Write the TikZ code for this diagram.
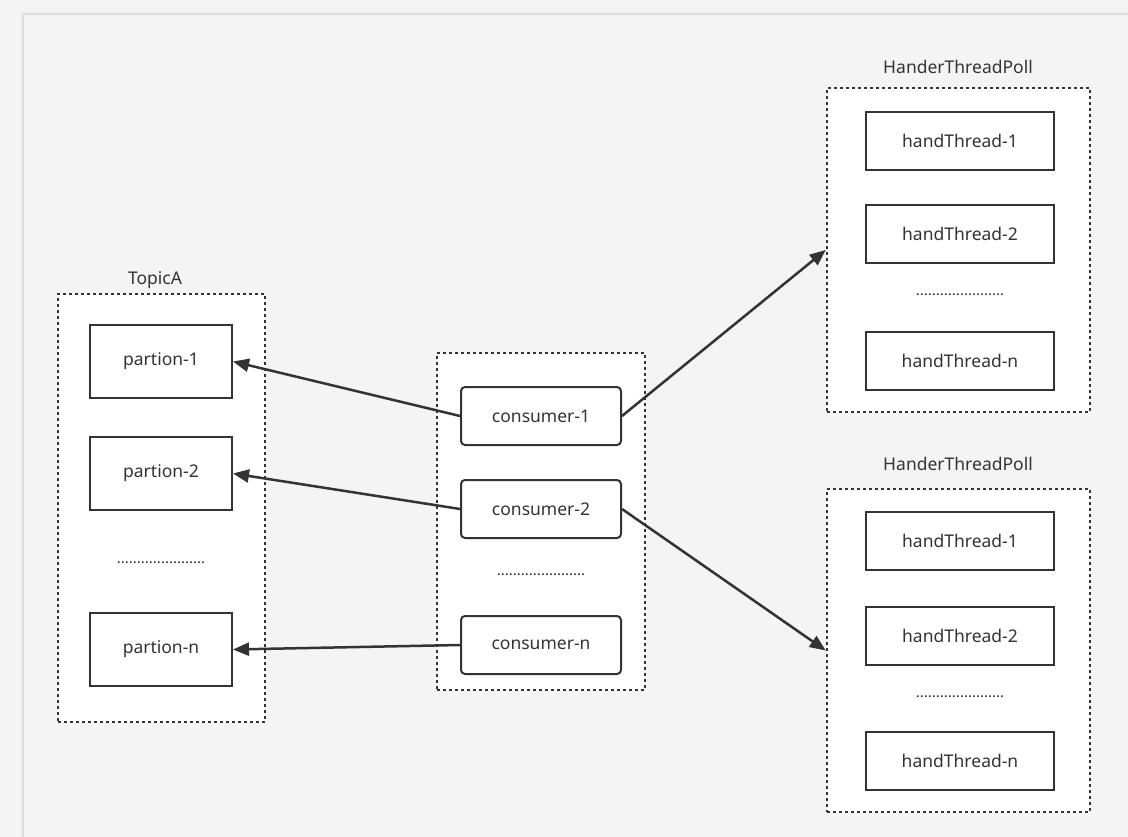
\documentclass[tikz,border=0pt]{standalone}
\usepackage{fontspec}
\setmainfont{Noto Sans}
\usetikzlibrary{arrows.meta}
\definecolor{bg}{HTML}{F4F4F4}
\definecolor{ink}{HTML}{333333}
\tikzset{
  cont/.style={draw=ink, fill=white, line width=2.5pt, dash pattern=on 3pt off 3pt, inner sep=0pt},
  rbox/.style={draw=ink, fill=white, line width=2pt, inner sep=0pt, text=ink, font=\fontsize{17.5}{20}\selectfont},
  pbox/.style={rbox, minimum width=142pt, minimum height=73pt},
  cbox/.style={rbox, rounded corners=4pt, minimum width=160pt, minimum height=58pt},
  hbox/.style={rbox, minimum width=188pt, minimum height=58pt},
  lbl/.style={text=ink, font=\fontsize{17.5}{20}\selectfont, inner sep=0pt},
  dots/.style={text=ink, font=\fontsize{15}{18}\selectfont, inner sep=0pt},
  conn/.style={draw=ink, line width=2.5pt, -{Triangle[length=16pt,width=13pt]}}
}
\begin{document}
\begin{tikzpicture}[x=1pt,y=-1pt]
\useasboundingbox (0,0) rectangle (1128,837);
\fill[bg] (0,0) rectangle (1128,837);
\foreach \i/\o in {0/0.06,1/0.045,2/0.03,3/0.02,4/0.01}{
  \fill[black,opacity=\o] (24-\i,15-\i) rectangle (1128,837);
}
\fill[bg] (24,15) rectangle (1128,837);
% containers
\node[cont, minimum width=207pt, minimum height=428pt] (topic) at (161.5,508) {};
\node[cont, minimum width=208pt, minimum height=337pt] (cons) at (541,521.5) {};
\node[cont, minimum width=263pt, minimum height=324pt] (htp1) at (958.5,250) {};
\node[cont, minimum width=263pt, minimum height=323pt] (htp2) at (958.5,650.5) {};
% titles
\node[lbl] (tTopic) at (155,280) {TopicA};
\node[lbl] (tH1) at (958,67) {HanderThreadPoll};
\node[lbl] (tH2) at (958,464) {HanderThreadPoll};
% partitions
\node[pbox] (p1) at (161,361.5) {partion-1};
\node[pbox] (p2) at (161,473.5) {partion-2};
\node[dots] (pd) at (161,563) {......................};
\node[pbox] (pn) at (161,649.5) {partion-n};
% consumers
\node[cbox] (c1) at (541,416) {consumer-1};
\node[cbox] (c2) at (541,509) {consumer-2};
\node[dots] (cd) at (541,575) {......................};
\node[cbox] (cn) at (541,645) {consumer-n};
% thread pool 1
\node[hbox] (a1) at (960,141) {handThread-1};
\node[hbox] (a2) at (960,234) {handThread-2};
\node[dots] (ad) at (960,295) {......................};
\node[hbox] (an) at (960,361) {handThread-n};
% thread pool 2
\node[hbox] (b1) at (960,541) {handThread-1};
\node[hbox] (b2) at (960,636) {handThread-2};
\node[dots] (bd) at (960,697) {......................};
\node[hbox] (bn) at (960,761) {handThread-n};
% connectors
\draw[conn] (c1.west) -- (p1.east);
\draw[conn] (c2.west) -- (p2.east);
\draw[conn] (cn.west) -- (pn.east);
\draw[conn] (c1.east) -- (htp1.west);
\draw[conn] (c2.east) -- (htp2.west);
\end{tikzpicture}
\end{document}
